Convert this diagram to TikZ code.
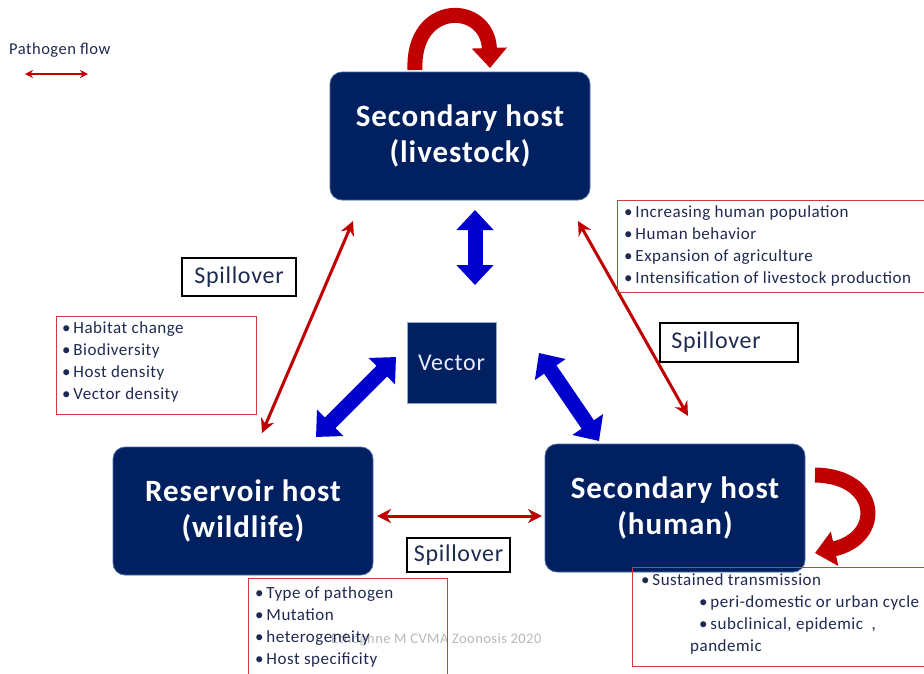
\documentclass[tikz,border=0pt]{standalone}
\usepackage{fontspec}
\setmainfont{Carlito}
\newfontfamily\widefont{Carlito}[LetterSpace=3]
\newfontfamily\hostfont{Carlito}[LetterSpace=3]
\usetikzlibrary{arrows.meta}
\definecolor{navy}{HTML}{002060}
\definecolor{navyedge}{HTML}{4A6AA8}
\definecolor{arrred}{HTML}{C00000}
\definecolor{boxred}{HTML}{D03A3A}
\definecolor{blockblue}{HTML}{0000CC}
\definecolor{txt}{HTML}{1F2A50}
\begin{document}
\begin{tikzpicture}[x=1pt,y=-1pt,
  hostbox/.style={fill=navy, draw=navyedge, line width=0.8pt, rounded corners=12pt,
    minimum width=260pt, minimum height=128pt, text=white, align=center,
    font=\hostfont\fontsize{31}{36}\selectfont\bfseries},
  vecbox/.style={fill=navy, draw=navyedge!60!white, line width=0.8pt,
    minimum width=89pt, minimum height=81pt, text=white!92!blue,
    font=\hostfont\fontsize{24}{26}\selectfont},
  spillbox/.style={draw=black, line width=2.6pt, fill=white, text=txt,
    font=\widefont\fontsize{24}{26}\selectfont, inner sep=0pt},
  redframe/.style={draw=boxred, line width=1.2pt},
  bullets/.style={text=txt, align=left, anchor=north west, inner sep=0pt,
    font=\widefont\fontsize{17}{22}\selectfont},
  redarrow/.style={draw=arrred, line width=3pt,
    {Stealth[length=14pt,width=14pt]}-{Stealth[length=14pt,width=14pt]}},
  bluearrow/.style={draw=blockblue, line width=15pt,
    {Triangle[length=20pt,width=36pt]}-{Triangle[length=20pt,width=36pt]}},
  curvearrow/.style={draw=arrred, line width=15pt, -{Triangle[length=20pt,width=34pt]}}
]
\useasboundingbox[fill=white] (0,0) rectangle (924,673);

% legend
\node[text=txt, font=\widefont\fontsize{16.5}{18}\selectfont, anchor=west, inner sep=0pt] (legend) at (9,50) {Pathogen flow};
\coordinate (legA) at (25,74);
\coordinate (legB) at (88,74);
\draw[draw=arrred, line width=1.8pt, {Stealth[length=8pt,width=8pt]}-{Stealth[length=8pt,width=8pt]}] (legA) -- (legB);

% host boxes
\node[hostbox] (live) at (460,136) {Secondary host\\(livestock)};
\node[hostbox] (wild) at (243,511) {Reservoir host\\(wildlife)};
\node[hostbox] (human) at (675,508) {Secondary host\\(human)};
\node[vecbox] (vec) at (451.5,362.5) {Vector};

% curved self arrows
\coordinate (tA) at (415,70);
\coordinate (tB) at (490,68);
\draw[curvearrow] (tA) .. controls (412,0) and (488,2) .. (tB);
\coordinate (rA) at (815,475);
\coordinate (rB) at (815,553);
\draw[curvearrow] (rA) .. controls (880,476) and (884,538) .. (rB);

% red pathogen flow arrows
\coordinate (l1) at (353,221);
\coordinate (l2) at (262,433);
\draw[redarrow] (l1) -- (l2);
\coordinate (r1) at (578,221);
\coordinate (r2) at (688,416);
\draw[redarrow] (r1) -- (r2);
\coordinate (h1) at (377,516);
\coordinate (h2) at (542,516);
\draw[redarrow] (h1) -- (h2);

% blue vector arrows
\coordinate (b1) at (475,210);
\coordinate (b2) at (475,285);
\draw[bluearrow] (b1) -- (b2);
\coordinate (b3) at (316,437);
\coordinate (b4) at (396,357);
\draw[bluearrow] (b3) -- (b4);
\coordinate (b5) at (539,353);
\coordinate (b6) at (599,441);
\draw[bluearrow] (b5) -- (b6);

% spillover labels
\node[spillbox, minimum width=114pt, minimum height=38pt] (sp1) at (239,277) {Spillover};
\node[spillbox, minimum width=138pt, minimum height=39pt] (sp2) at (729,342.5) {\hspace*{-26pt}Spillover};
\node[spillbox, minimum width=103pt, minimum height=34pt] (sp3) at (458.5,555) {Spillover};

% red factor boxes
\node[redframe, minimum width=320pt, minimum height=92pt, anchor=north west] (fr1) at (617,200) {};
\node[bullets] (t1) at (624,205) {\textbullet\,Increasing human population\\\textbullet\,Human behavior\\\textbullet\,Expansion of agriculture\\\textbullet\,Intensification of livestock production};

\node[redframe, minimum width=200pt, minimum height=98pt, anchor=north west] (fr2) at (56,316) {};
\node[bullets] (t2) at (62,321) {\textbullet\,Habitat change\\\textbullet\,Biodiversity\\\textbullet\,Host density\\\textbullet\,Vector density};

\node[gray!55, font=\widefont\fontsize{14.5}{16}\selectfont, anchor=base west, inner sep=0pt] (wm) at (331,643) {Ethoghne M CVMA Zoonosis 2020};
\node[redframe, minimum width=199pt, minimum height=110pt, anchor=north west] (fr3) at (248,578) {};
\node[bullets] (t3) at (255,586) {\textbullet\,Type of pathogen\\\textbullet\,Mutation\\\textbullet\,heterogeneity\\\textbullet\,Host specificity};

\node[redframe, minimum width=300pt, minimum height=99pt, anchor=north west] (fr4) at (632,567) {};
\node[bullets] (t4) at (641,573) {\textbullet\,Sustained transmission\\
\hspace*{58pt}\textbullet\,peri-domestic or urban cycle\\
\hspace*{58pt}\textbullet\,subclinical, epidemic\ \ ,\\
\hspace*{49pt}pandemic};
\end{tikzpicture}
\end{document}
